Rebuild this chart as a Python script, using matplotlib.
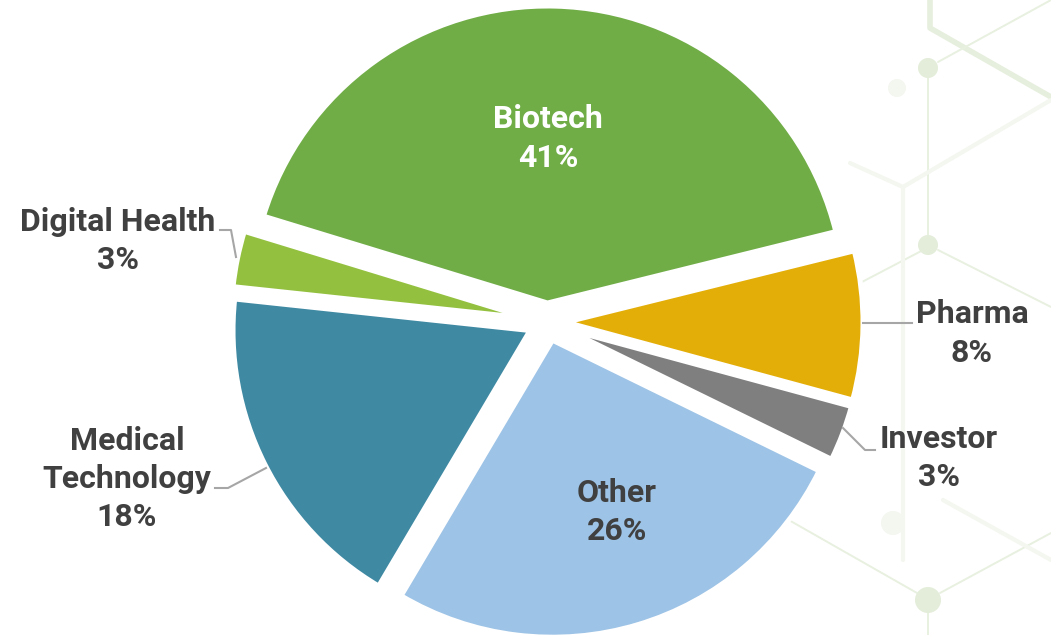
import matplotlib
matplotlib.use("Agg")
import matplotlib.pyplot as plt
from matplotlib.patches import Circle

# ---- data ----
categories = ["Biotech", "Pharma", "Investor", "Other", "Medical\nTechnology", "Digital Health"]
shares = [41, 8, 3, 26, 18, 3]
colors = ["#70AD47", "#E3AE08", "#7F7F7F", "#9DC3E6", "#3F89A3", "#93C13F"]

W, H = 1051, 635
R = 297          # pie radius in pixels
GAP = 19         # explode distance in pixels (same for all slices)
fig = plt.figure(figsize=(W / 100, H / 100), dpi=100)
ax = fig.add_axes([0, 0, 1, 1])

def Y(y):
    return H - y

# ---- faint molecular background (decoration) ----
bg = "#E8F0E0"
bg2 = "#F3F7EF"
seg = [
    ([930, 930, 1051], [0, 28, 97], "#E6EFDD", 4),
    ([938, 1051], [62, 0], bg, 1.4),
    ([928, 928], [68, 245], bg, 1.4),
    ([927, 860], [248, 283], bg, 1.4),
    ([938, 1051], [250, 307], bg, 1.4),
    ([850, 903, 1051], [163, 187, 100], bg2, 3),
    ([903, 903], [187, 560], bg2, 3),
    ([780, 917], [515, 593], bg, 1.4),
    ([940, 1051], [593, 533], bg, 1.4),
    ([928, 928], [598, 635], bg, 1.4),
    ([943, 1051], [500, 560], bg2, 3),
]
for xs, ys, c, lw in seg:
    ax.plot(xs, [Y(v) for v in ys], color=c, lw=lw, zorder=0, solid_capstyle="round")
for (cx, cy, r, c) in [(928, 68, 10, "#E3EDD9"), (928, 245, 10, "#E3EDD9"),
                       (928, 600, 13, "#E3EDD9"), (897, 88, 9, bg2), (893, 523, 12, bg2)]:
    ax.add_patch(Circle((cx, Y(cy)), r, color=c, zorder=0, lw=0))

# ---- pie ----
wedges, _ = ax.pie(shares, colors=colors, explode=[GAP] * len(shares),
                   startangle=163, counterclock=False, radius=R, center=(547, Y(322)),
                   wedgeprops=dict(linewidth=3.6, edgecolor="white", joinstyle="miter"))
for w in wedges:
    w.set_zorder(2)

ax.set_xlim(0, W)
ax.set_ylim(0, H)
ax.set_aspect("equal")
ax.axis("off")

font = dict(family=["Roboto", "DejaVu Sans"], fontweight="bold", fontsize=23)
dark = "#404040"

def label(lines, x, baselines, color=dark):
    for t, b in zip(lines, baselines):
        ax.text(x, Y(b), t, ha="center", va="baseline", color=color, zorder=5, **font)

pct = [f"{v}%" for v in shares]
label([categories[0], pct[0]], 548, [128, 167], color="white")
label([categories[3], pct[3]], 617, [502, 540])
label([categories[1], pct[1]], 972, [323, 362])
label([categories[2], pct[2]], 939, [448, 486])
label(categories[4].split("\n") + [pct[4]], 127, [450, 488, 526])
label([categories[5], pct[5]], 118, [231, 269])

# ---- leader lines ----
lc = "#A6A6A6"
leaders = [
    ([863, 912], [323, 323]),
    ([843, 865, 875], [428, 450, 450]),
    ([220, 231, 236], [230, 230, 257]),
    ([215, 228, 266], [488, 488, 468]),
]
for xs, ys in leaders:
    ax.plot(xs, [Y(v) for v in ys], color=lc, lw=1.5, zorder=3)

fig.savefig("out.png", dpi=100, facecolor="white")
